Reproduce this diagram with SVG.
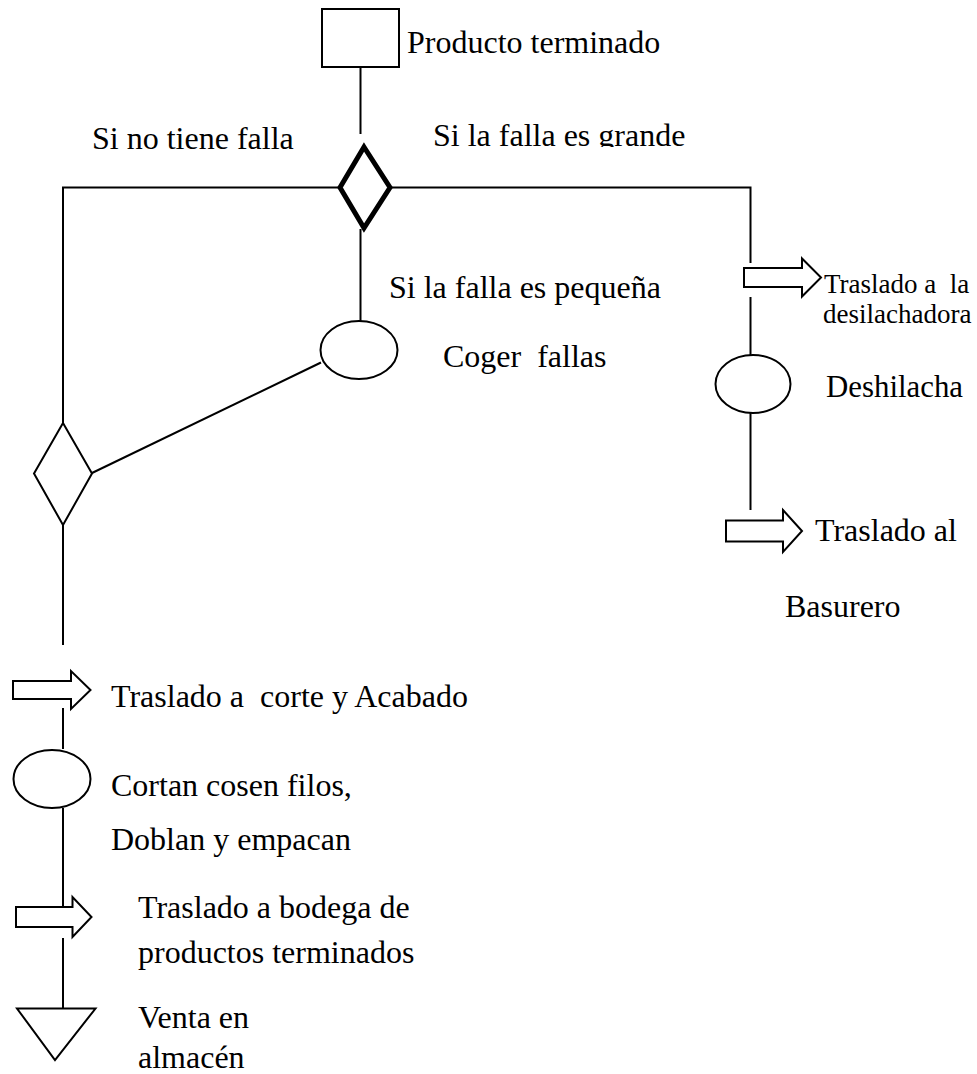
<svg xmlns="http://www.w3.org/2000/svg" width="977" height="1074" viewBox="0 0 977 1074">
  <style>
    .ln { fill: none; stroke: #000; stroke-width: 2; }
    .sh { fill: #fff; stroke: #000; stroke-width: 2; stroke-linejoin: miter; }
    .bold { fill: #fff; stroke: #000; stroke-width: 5; stroke-linejoin: miter; }
    .t { font-family: "Liberation Serif", "Times New Roman", serif; font-size: 32px; fill: #000; }
    .ts { font-family: "Liberation Serif", "Times New Roman", serif; font-size: 27px; fill: #000; }
  </style>
  <defs>
    <!-- text box of the upper-right condition label cuts off its descenders -->
    <clipPath id="clipGrande">
      <rect x="400" y="100" width="320" height="47"/>
    </clipPath>
  </defs>

  <!-- connectors -->
  <g id="connectors">
    <line class="ln" x1="360.5" y1="67" x2="360.5" y2="134"/>
    <polyline class="ln" points="338,187.5 63,187.5 63,423"/>
    <polyline class="ln" points="392,187.5 750.5,187.5 750.5,263"/>
    <line class="ln" x1="360.5" y1="229" x2="360.5" y2="321"/>
    <line class="ln" x1="321" y1="362.5" x2="92" y2="473"/>
    <line class="ln" x1="63" y1="525" x2="63" y2="645"/>
    <line class="ln" x1="63" y1="708" x2="63" y2="749"/>
    <line class="ln" x1="63" y1="808" x2="63" y2="907"/>
    <line class="ln" x1="63" y1="938" x2="63" y2="1008"/>
    <line class="ln" x1="750.5" y1="297" x2="750.5" y2="355"/>
    <line class="ln" x1="750.5" y1="413" x2="750.5" y2="510"/>
  </g>

  <!-- start: finished product -->
  <g id="producto">
    <rect class="sh" x="322" y="9" width="77" height="58"/>
    <text class="t" x="407" y="53">Producto terminado</text>
  </g>

  <!-- inspection decision -->
  <g id="decision-falla">
    <polygon class="bold" points="364,147 390,187.5 364,228 340,187.5"/>
    <text class="t" x="92" y="149">Si no tiene falla</text>
    <text class="t" x="433" y="146" clip-path="url(#clipGrande)">Si la falla es grande</text>
    <text class="t" x="389" y="298">Si la falla es pequeña</text>
  </g>

  <!-- small faults are picked -->
  <g id="coger-fallas">
    <ellipse class="sh" cx="359" cy="350" rx="38.5" ry="29"/>
    <text class="t" x="443" y="367" xml:space="preserve">Coger  fallas</text>
  </g>

  <!-- merge point -->
  <g id="union">
    <polygon class="sh" points="63,423 92,473.5 63,525 34,473.5"/>
  </g>

  <!-- big fault branch -->
  <g id="traslado-desilachadora">
    <polygon class="sh" points="744,268 802,268 802,258.5 821,277.5 802,296.5 802,287 744,287"/>
    <text class="ts" x="824" y="293" xml:space="preserve">Traslado a  la</text>
    <text class="ts" x="823" y="323">desilachadora</text>
  </g>

  <g id="deshilacha">
    <ellipse class="sh" cx="753" cy="384" rx="37.5" ry="29"/>
    <text class="t" x="826" y="397" textLength="137" lengthAdjust="spacingAndGlyphs">Deshilacha</text>
  </g>

  <g id="traslado-basurero">
    <polygon class="sh" points="726,520.5 783,520.5 783,510 802,531 783,552 783,541.5 726,541.5"/>
    <text class="t" x="815" y="541">Traslado al</text>
    <text class="t" x="785" y="617">Basurero</text>
  </g>

  <!-- main line -->
  <g id="traslado-corte">
    <polygon class="sh" points="13,681 71,681 71,671 90.5,690 71,709 71,699 13,699"/>
    <text class="t" x="111" y="707" xml:space="preserve">Traslado a  corte y Acabado</text>
  </g>

  <g id="cortan">
    <ellipse class="sh" cx="52" cy="779" rx="38.5" ry="29"/>
    <text class="t" x="111" y="796">Cortan cosen filos,</text>
    <text class="t" x="111" y="850">Doblan y empacan</text>
  </g>

  <g id="traslado-bodega">
    <polygon class="sh" points="16,907 72.5,907 72.5,897 91.5,917 72.5,937 72.5,927 16,927"/>
    <text class="t" x="138" y="918">Traslado a bodega de</text>
    <text class="t" x="138" y="963">productos terminados</text>
  </g>

  <g id="venta">
    <polygon class="sh" points="17,1008.5 95.5,1008.5 55,1060"/>
    <text class="t" x="138" y="1028">Venta en</text>
    <text class="t" x="138" y="1068">almacén</text>
  </g>
</svg>
